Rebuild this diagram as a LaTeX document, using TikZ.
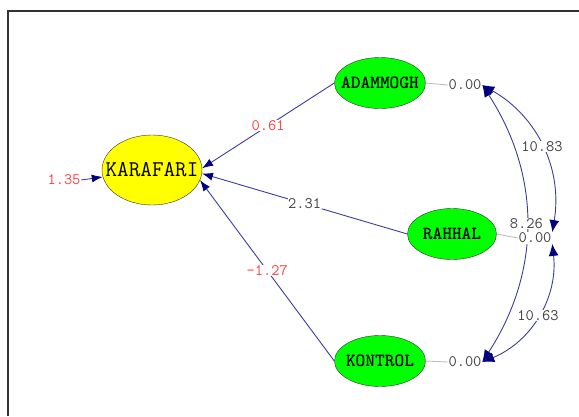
\documentclass[tikz,border=0pt]{standalone}
\usepackage{fontspec}
\usetikzlibrary{shapes.geometric,arrows.meta}
\definecolor{vgreen}{HTML}{00FF00}
\definecolor{vyellow}{HTML}{FFFF00}
\definecolor{pathblue}{HTML}{3C3C9C}
\definecolor{tipblue}{HTML}{000080}
\definecolor{lred}{HTML}{FF3F3F}
\definecolor{lgray}{HTML}{404040}
\newcommand{\vname}[1]{\makebox[0pt]{#1}}

\begin{document}
\begin{tikzpicture}[x=1pt,y=-1pt]
		\tikzset{
			var/.style={draw=black!80,ellipse,inner sep=0pt,fill=vgreen,
				font=\ttfamily\bfseries\fontsize{18.5}{18}\selectfont,minimum width=91,minimum height=51},
			lbl/.style={fill=white,inner sep=0.6pt,text=lgray,
				font=\ttfamily\fontsize{16}{16}\selectfont},
			path/.style={draw=pathblue,line width=0.9pt,-{Latex[length=11pt,width=8pt,color=tipblue]}},
			cov/.style={draw=pathblue,line width=0.9pt,
				{Latex[length=12pt,width=10pt,color=tipblue]}-{Latex[length=12pt,width=10pt,color=tipblue]}},
			err/.style={draw=black!25,line width=0.9pt}
		}
		\useasboundingbox (0,0) rectangle (579,416);
		\draw[black!80,line width=1.2pt] (8,416) -- (8,11) -- (579,11);
		% variables
		\node[var,fill=vyellow,minimum width=100,minimum height=70,
			font=\ttfamily\fontsize{22.5}{22}\selectfont] (kara) at (152,170) {\vname{KARAFARI}};
		\node[var] (adam) at (380,83) {\vname{ADAMMOGH}};
		\node[var,minimum width=89] (rahhal) at (452,234) {\vname{RAHHAL}};
		\node[var] (kontrol) at (380,361) {\vname{KONTROL}};
		% error terms
		\node[lbl,text=lred] (e0) at (64,180) {1.35};
		\node[lbl] (e1) at (465,85) {0.00};
		\node[lbl] (e3) at (465,362) {0.00};
		\draw[path] (e0.east) -- (kara.188);
		\draw[err] (adam.east) -- (e1.west);
		\draw[err] (kontrol.east) -- (e3.west);
		% paths
		\draw[path] (adam.west) -- node[lbl,text=lred] (b1) {0.61} (kara.2);
		\draw[path] (rahhal.west) -- node[lbl] (b2) {2.31} (kara.-4);
		\draw[path] (kontrol.west) -- node[lbl,text=lred] (b3) {-1.27} (kara.-12);
		% covariances
		\draw[cov] (e1.east) to[bend left=33] node[lbl] (c13) {8.26} (e3.east);
		\node[lbl] (e2) at (535,238) {0.00};
		\draw[err] (rahhal.east) -- (e2.west);
		\draw[cov] (e1.east) to[bend left=35] node[lbl] (c12) {10.83} (e2.north east);
		\draw[cov] (e2.south east) to[bend left=37] node[lbl] (c23) {10.63} (e3.east);
\end{tikzpicture}
\end{document}
